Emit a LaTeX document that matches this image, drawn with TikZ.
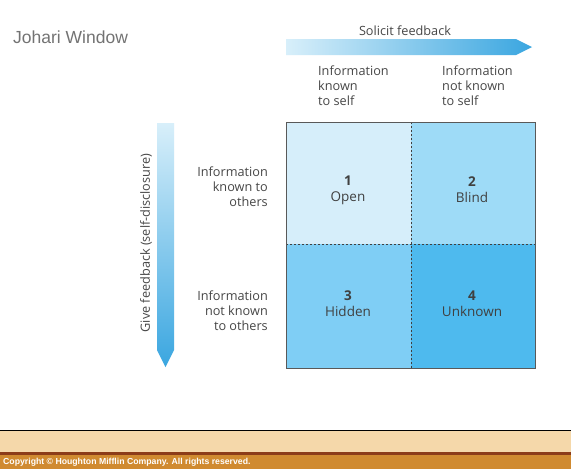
\documentclass[tikz,border=0pt]{standalone}
\usepackage{fontspec}
\setmainfont{Open Sans}
\newfontfamily\arialf{Liberation Sans}
\definecolor{arrowlight}{RGB}{216,239,250}
\definecolor{arrowdark}{RGB}{58,166,224}
\definecolor{openc}{RGB}{214,238,250}
\definecolor{blindc}{RGB}{158,219,247}
\definecolor{hiddenc}{RGB}{127,206,245}
\definecolor{unknownc}{RGB}{78,186,238}
\definecolor{beige}{RGB}{245,216,170}
\definecolor{brownline}{RGB}{140,60,25}
\definecolor{orangebar}{RGB}{208,138,48}
\begin{document}
\begin{tikzpicture}[x=1pt,y=-1pt,
  lbl/.style={text=black!72, font=\fontsize{12.7}{15}\selectfont, inner sep=0pt},
  cell/.style={draw=black!65, line width=0.8pt},
  divider/.style={draw=black!75, dashed, dash pattern=on 2pt off 2pt, line width=0.6pt},
  celltext/.style={text=black!75, font=\fontsize{13.5}{16}\selectfont, align=center, inner sep=0pt}]
\useasboundingbox (0,0) rectangle (571,469);
\fill[white] (0,0) rectangle (571,469);
% title
\node[anchor=base west, inner sep=0pt, text=black!55, font=\arialf\fontsize{17.5}{20}\selectfont] (title) at (13,43) {Johari Window};
% top arrow
\shade[left color=arrowlight, right color=arrowdark]
  (286,39) -- (516,39) -- (532,47) -- (516,55) -- (286,55) -- cycle;
\node[lbl] (solicit) at (405,31) {Solicit feedback};
\node[lbl, align=left, anchor=west] (ks) at (318,86) {Information\\known\\to self};
\node[lbl, align=left, anchor=west] (nks) at (442,86) {Information\\not known\\to self};
% left arrow
\shade[top color=arrowlight, bottom color=arrowdark]
  (157,123) -- (174,123) -- (174,350) -- (165.5,367) -- (157,350) -- cycle;
\node[lbl, rotate=90] (give) at (146,243) {Give feedback (self-disclosure)};
\node[lbl, align=right, anchor=east] (ko) at (268,187) {Information\\known to\\others};
\node[lbl, align=right, anchor=east] (nko) at (268,311) {Information\\not known\\to others};
% grid
\fill[openc] (286,122) rectangle (411,244);
\fill[blindc] (411,122) rectangle (535,244);
\fill[hiddenc] (286,244) rectangle (411,368);
\fill[unknownc] (411,244) rectangle (535,368);
\draw[divider] (411,122) -- (411,368);
\draw[divider] (286,244) -- (535,244);
\draw[cell] (286,122) rectangle (535,368);
\node[celltext] (open) at (348,190) {\textbf{1}\\Open};
\node[celltext] (blind) at (472,190) {\textbf{2}\\Blind};
\node[celltext] (hidden) at (348,304) {\textbf{3}\\Hidden};
\node[celltext] (unknown) at (472,304) {\textbf{4}\\Unknown};
% footer
\fill[beige] (0,431) rectangle (571,452);
\draw[black, line width=1pt] (0,430.5) -- (571,430.5);
\fill[brownline] (0,452) rectangle (571,455);
\fill[orangebar] (0,455) rectangle (571,469);
\node[anchor=west, inner sep=0pt, text=white, font=\arialf\bfseries\fontsize{8.7}{10}\selectfont] (copy) at (3,462.5) {Copyright \textcopyright{} Houghton Mifflin Company. All rights reserved.};
\end{tikzpicture}
\end{document}
